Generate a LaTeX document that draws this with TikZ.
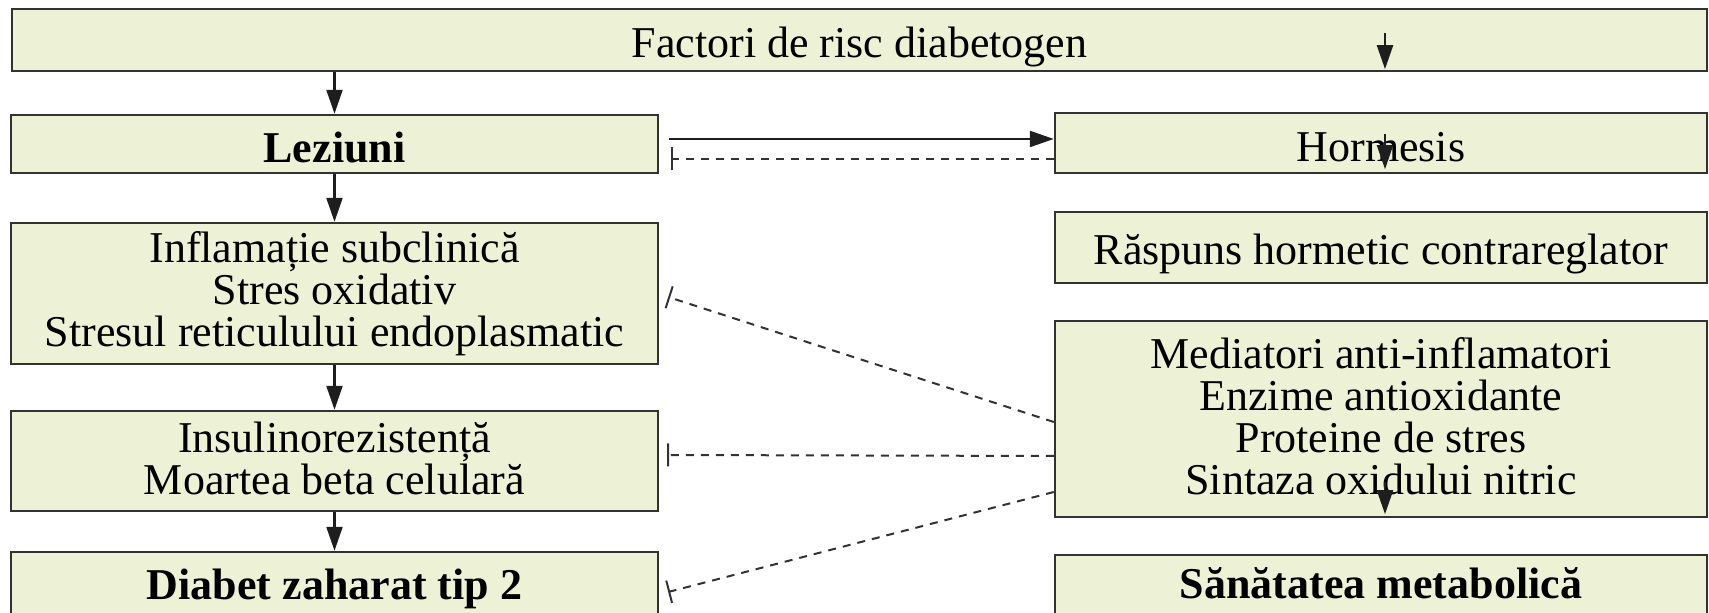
\documentclass[tikz,border=0pt]{standalone}
\usepackage{fontspec}
\setmainfont{Liberation Serif}
\usepackage{tikz}
\usetikzlibrary{arrows.meta, positioning}
\definecolor{boxFill}{RGB}{237, 242, 214}
\definecolor{lineGray}{RGB}{50, 50, 50}

\begin{document}
\begin{tikzpicture}[
    x=0.5pt, y=-0.5pt,
    every node/.style={font=\fontsize{22}{21}\selectfont},
    stage/.style={rectangle, draw=lineGray, fill=boxFill, line width=1.2pt, align=center, inner sep=0pt, minimum width=323.5pt,
        execute at begin node={\rule{0pt}{22pt}}, execute at end node={\rule[-3pt]{0pt}{3pt}}},
    wide/.style={stage, minimum width=326pt},
    flow/.style={-{Triangle[length=12pt, width=8pt]}, draw=lineGray!60!black, line width=1.1pt},
    inhibit/.style={-{Bar[width=11.5pt]}, draw=lineGray, line width=1pt, dash pattern=on 4pt off 3.5pt},
]
\useasboundingbox (0,0) rectangle (1709,613);
\node[stage, minimum width=847.5pt, minimum height=31pt] (factori) at (859.5, 40) {Factori de risc diabetogen};
% left column
\node[stage, minimum height=29pt] (leziuni) at (334.5, 144) {\textbf{Leziuni}};
\node[stage, minimum height=70.5pt] (inflam) at (334.5, 293.5) {Inflamație subclinică\\Stres oxidativ\\Stresul reticulului endoplasmatic};
\node[stage, minimum height=50pt] (insulin) at (334.5, 461) {Insulinorezistență\\Moartea beta celulară};
\node[stage, minimum height=33pt] (diabet) at (334.5, 585) {\raisebox{2pt}{\textbf{Diabet zaharat tip 2}}};
% right column
\node[wide, minimum height=30pt] (hormesis) at (1381, 143) {Hormesis};
\node[wide, minimum height=35.5pt] (raspuns) at (1381, 247.5) {Răspuns hormetic contrareglator};
\node[wide, minimum height=98pt] (mediat) at (1381, 419) {Mediatori anti-inflamatori\\Enzime antioxidante\\Proteine de stres\\Sintaza oxidului nitric};
\node[wide, minimum height=30pt] (sanatate) at (1381, 585) {\raisebox{2.5pt}{\textbf{Sănătatea metabolică}}};
\draw[flow] (factori.south -| leziuni) -- (leziuni.north);
\draw[flow] (leziuni) -- (inflam);
\draw[flow] (inflam) -- (insulin);
\draw[flow] (insulin) -- (diabet);
% arrows whose tails sit under the boxes
\coordinate (hTop) at ([xshift=2pt]factori.south -| hormesis);
\draw[flow] ([yshift=19.5pt]hTop) -- ([yshift=1.5pt]hTop);
\draw[flow] ([xshift=2pt, yshift=20pt]hormesis.south) -- ([xshift=2pt, yshift=2.5pt]hormesis.south);
\draw[flow] ([xshift=2pt, yshift=18pt]mediat.south) -- ([xshift=2pt, yshift=2pt]mediat.south);
\draw[flow] ([xshift=5pt, yshift=2.5pt]leziuni.east) -- ([yshift=2pt]hormesis.west);
\draw[inhibit] ([yshift=-8pt]hormesis.west) -- ([xshift=6pt, yshift=-7.5pt]leziuni.east);
\draw[inhibit] ([yshift=-1.5pt]mediat.west) -- ([xshift=4.5pt, yshift=-1.75pt]inflam.east);
\draw[inhibit] ([yshift=-18.5pt]mediat.west) -- ([xshift=4pt, yshift=3pt]insulin.east);
\draw[inhibit] ([yshift=-36.5pt]mediat.west) -- ([xshift=4.5pt, yshift=-3.5pt]diabet.east);
\end{tikzpicture}
\end{document}
